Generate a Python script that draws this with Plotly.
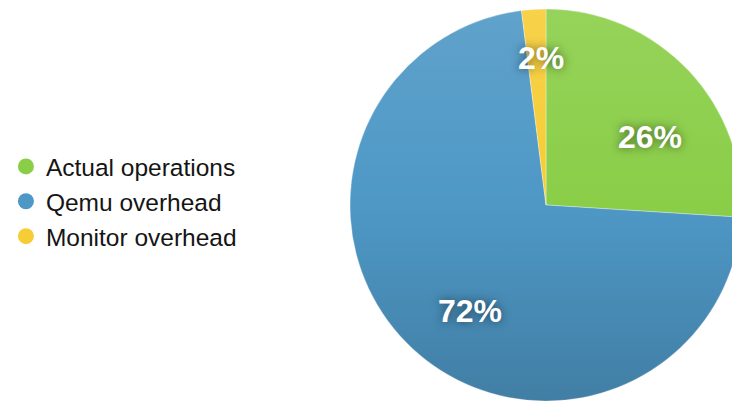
import base64
import math
import plotly.graph_objects as go

# ---- data ----
categories = ["Actual operations", "Qemu overhead", "Monitor overhead"]
values = [26, 72, 2]
label_texts = ["26%", "72%", "2%"]

# ---- style ----
colors = ["#8ACE48", "#4E98C6", "#F6CD36"]
label_radius_frac = [0.633, 0.663, 0.75]
label_angle_shift_deg = [10.0, -7.5, 1.5]

FIG_W, FIG_H = 742, 403
CX, CY, R = 546, 205, 196  # pie centre / radius in px (layout geometry)

dom_x = [(CX - R) / FIG_W, (CX + R) / FIG_W]
dom_y = [(FIG_H - CY - R) / FIG_H, (FIG_H - CY + R) / FIG_H]

fig = go.Figure()
fig.add_trace(go.Pie(
    labels=categories,
    values=values,
    sort=False,
    direction="clockwise",
    rotation=0,
    marker=dict(colors=colors, line=dict(width=0.6, color="rgba(255,255,255,0.55)")),
    textinfo="none",
    hoverinfo="label+percent",
    showlegend=False,
    domain=dict(x=dom_x, y=dom_y),
))

# legend entries as circle markers
for cat, col in zip(categories, colors):
    fig.add_trace(go.Scatter(
        x=[None], y=[None], mode="markers", name=cat,
        marker=dict(symbol="circle", size=16, color=col),
        showlegend=True,
    ))

# vertical shading overlay to mimic gradient fill
svg = (
    f"<svg xmlns='http://www.w3.org/2000/svg' width='{2*R}' height='{2*R}' viewBox='0 0 {2*R} {2*R}'>"
    "<defs><linearGradient id='g' x1='0' y1='0' x2='0' y2='1'>"
    "<stop offset='0' stop-color='white' stop-opacity='0.10'/>"
    "<stop offset='0.5' stop-color='white' stop-opacity='0'/>"
    "<stop offset='0.5' stop-color='black' stop-opacity='0'/>"
    "<stop offset='1' stop-color='black' stop-opacity='0.17'/>"
    "</linearGradient></defs>"
    f"<circle cx='{R}' cy='{R}' r='{R}' fill='url(#g)'/></svg>"
)
uri = "data:image/svg+xml;base64," + base64.b64encode(svg.encode()).decode()
fig.add_layout_image(dict(
    source=uri, xref="paper", yref="paper",
    x=dom_x[0], y=dom_y[1], sizex=dom_x[1] - dom_x[0], sizey=dom_y[1] - dom_y[0],
    xanchor="left", yanchor="top", sizing="stretch", layer="above",
))

# percentage labels placed around slice mid-angles
total = sum(values)
start = 0.0
for v, txt, f, sh in zip(values, label_texts, label_radius_frac, label_angle_shift_deg):
    mid = (start + v / 2) / total * 2 * math.pi + math.radians(sh)
    start += v
    px = CX + f * R * math.sin(mid)
    py = CY - f * R * math.cos(mid)
    fig.add_annotation(
        x=px / FIG_W, y=(FIG_H - py) / FIG_H, xref="paper", yref="paper",
        xanchor="center", yanchor="middle",
        text=f"<b>{txt}</b>", showarrow=False,
        font=dict(family="Liberation Sans, Arial, sans-serif", size=32, color="white",
                  shadow="0px 0px 10px rgba(0,0,0,0.55)"),
    )

fig.update_layout(
    width=FIG_W, height=FIG_H,
    margin=dict(l=0, r=0, t=0, b=0),
    paper_bgcolor="white", plot_bgcolor="white",
    xaxis=dict(visible=False), yaxis=dict(visible=False),
    legend=dict(
        x=0.008, y=0.5, xanchor="left", yanchor="middle",
        font=dict(family="Liberation Sans, Arial, sans-serif", size=24.5, color="#151515"),
        bgcolor="rgba(0,0,0,0)", itemclick=False, itemdoubleclick=False,
    ),
)

fig.write_html("out.html", config={"displayModeBar": False},
               post_script="document.body.style.margin='0';document.body.style.overflow='hidden';")
